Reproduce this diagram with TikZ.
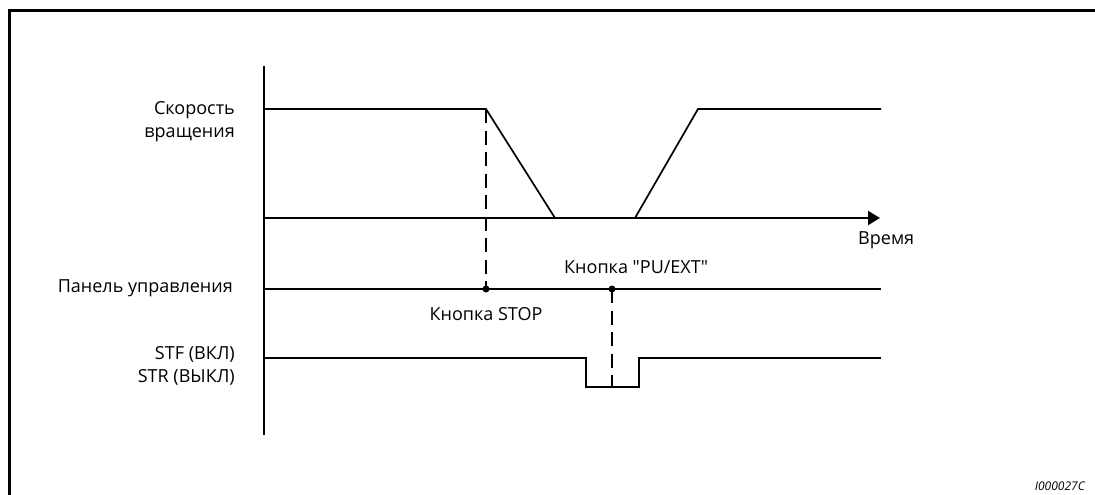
\documentclass[tikz,border=0pt]{standalone}
\usepackage{fontspec}
\setmainfont{Open Sans}[Ligatures=TeXOff]
\usetikzlibrary{arrows.meta}
\begin{document}
\begin{tikzpicture}[x=1pt,y=-1pt,
  lbl/.style={inner sep=0pt,font=\fontsize{18}{23}\selectfont},
  sig/.style={line width=1.7pt},
  axis/.style={line width=2.2pt},
  stopdash/.style={line width=1.8pt,dash pattern=on 14pt off 7.5pt},
  pudash/.style={line width=2.7pt,dash pattern=on 14pt off 7.5pt},
  dot/.style={circle,fill=black,inner sep=0pt,minimum size=7pt}]
\useasboundingbox (0,0) rectangle (1095,495);
\clip (0,0) rectangle (1095,495);
% frame
\draw[line width=2.8pt] (9.5,520) -- (9.5,10.5) -- (1120,10.5);
% coordinates
\coordinate (axtop) at (264,66);
\coordinate (axbot) at (264,435);
\coordinate (s0) at (264,109);
\coordinate (s1) at (486,109);
\coordinate (s2) at (555,218);
\coordinate (s3) at (635,218);
\coordinate (s4) at (698,109);
\coordinate (s5) at (881,109);
\coordinate (t0) at (264,218);
\coordinate (t1) at (880,218);
\coordinate (p0) at (264,289);
\coordinate (p1) at (881,289);
\coordinate (f0) at (264,358);
\coordinate (f1) at (586,358);
\coordinate (f2) at (586,387);
\coordinate (f3) at (639,387);
\coordinate (f4) at (639,358);
\coordinate (f5) at (881,358);
\coordinate (pubot) at (612,387);
% axes
\draw[axis] (axtop) -- (axbot);
\draw[axis,-{Triangle[length=12pt,width=14pt]}] (t0) -- (t1);
% speed
\draw[sig,line join=miter] (s0) -- (s1) -- (s2) (s3) -- (s4) -- (s5);
% panel
\draw[sig,line width=1.5pt] (p0) -- (p1);
\node[dot] (stopdot) at (486,289) {};
\node[dot] (pudot) at (612,289) {};
% STF
\draw[sig,line width=1.5pt] (f0) -- (f1) -- (f2) -- (f3) -- (f4) -- (f5);
% dashed
\draw[stopdash] (s1) -- (stopdot.center);
\draw[pudash] (pudot.center) -- (pubot);
% labels
\node[lbl,anchor=east,align=right] (lspeed) at (235,121.5) {Скорость\\вращения};
\node[lbl,anchor=east] (lpanel) at (233,288) {Панель управления};
\node[lbl,anchor=east,align=right] (lstf) at (235,366) {STF (ВКЛ)\\STR (ВЫКЛ)};
\node[lbl,anchor=west] (ltime) at (858,240) {Время};
\node[lbl] (lstop) at (486,314) {Кнопка STOP};
\node[lbl,anchor=west] (lpu) at (564,267) {Кнопка "PU/EXT"};
\node[inner sep=0pt,anchor=east,font=\fontsize{12}{14}\selectfont\itshape] (lid) at (1085,486) {I000027C};
\end{tikzpicture}
\end{document}
